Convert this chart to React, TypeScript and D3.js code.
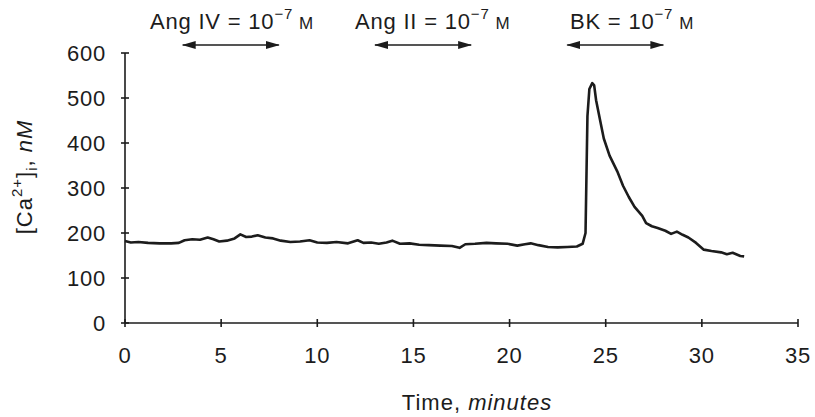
import React from 'react';
import * as d3 from 'd3';

// trace: time (min) vs [Ca2+]i (nM)
const timeMin = [
  0, 0.3, 0.7, 1.2, 1.8, 2.4, 2.8, 3.1, 3.5, 3.9, 4.3, 4.6, 4.9, 5.3, 5.7, 6.0, 6.3, 6.6, 6.9, 7.3,
  7.7, 8.1, 8.6, 9.1, 9.6, 10.0, 10.5, 11.0, 11.6, 12.1, 12.4, 12.8, 13.2, 13.6, 13.9, 14.3, 14.8,
  15.3, 15.8, 16.4, 17.0, 17.4, 17.7, 18.2, 18.8, 19.3, 19.9, 20.4, 20.8, 21.1, 21.5, 22.0, 22.5,
  23.0, 23.5, 23.8, 23.95, 24.05, 24.15, 24.3, 24.4, 24.5, 24.7, 24.9, 25.2, 25.6, 25.9, 26.2, 26.5,
  26.9, 27.1, 27.4, 27.7, 28.1, 28.4, 28.7, 29.0, 29.3, 29.7, 30.1, 30.5, 31.0, 31.3, 31.6, 32.0, 32.2,
];
const caNM = [
  182, 179, 180, 178, 177, 177, 178, 184, 186, 185, 190, 186, 181, 183, 188, 197, 191, 192, 195, 190,
  188, 183, 180, 181, 184, 179, 178, 180, 177, 184, 178, 179, 176, 179, 183, 176, 177,
  174, 173, 172, 171, 167, 175, 176, 178, 177, 176, 172, 175, 177, 173, 169, 168,
  169, 170, 176, 200, 460, 520, 533, 528, 495, 452, 410, 372, 337, 305, 280, 258,
  238, 222, 215, 211, 205, 198, 203, 196, 190, 178, 163, 160, 157, 153, 156, 149, 148,
];

const xTicks = [0, 5, 10, 15, 20, 25, 30, 35];
const yTicks = [0, 100, 200, 300, 400, 500, 600];

// drug applications: label, start, end (min)
const drugNames = ['Ang IV', 'Ang II', 'BK'];
const drugStart = [3, 13, 23];
const drugEnd = [8, 18, 28];

const FONT = '"Liberation Sans", Arial, Helvetica, sans-serif';
const INK = '#1c1c1c';
const FS = 22;
const LS = 0.8;

export default function App() {
  const x = d3.scaleLinear().domain([0, 35]).range([125, 798]);
  const y = d3.scaleLinear().domain([0, 600]).range([323, 53]);

  const pts: [number, number][] = timeMin.map((t, i) => [t, caNM[i]]);
  const line = d3
    .line<[number, number]>()
    .x((d) => x(d[0]))
    .y((d) => y(d[1]))
    .curve(d3.curveLinear);

  const labelX = [150, 355, 570];

  return (
    <svg
      width={815}
      height={417}
      style={{ position: 'absolute', left: 0, top: 0, background: '#fff' }}
      fontFamily={FONT}
      letterSpacing={LS}
    >
      <defs>
        <marker
          id="head"
          viewBox="0 0 14 8"
          refX={13}
          refY={4}
          markerWidth={14}
          markerHeight={8}
          markerUnits="userSpaceOnUse"
          orient="auto-start-reverse"
        >
          <path d="M0,0 L14,4 L0,8 Z" fill={INK} />
        </marker>
      </defs>

      {/* annotations */}
      {drugNames.map((name, i) => (
        <g key={name}>
          <text x={labelX[i]} y={29} fontSize={FS} fill={INK}>
            {name} = 10
            <tspan fontSize={15} dy={-10}>
              −7
            </tspan>
            <tspan fontSize={17} dy={10} dx={6}>
              M
            </tspan>
          </text>
          <line
            x1={x(drugStart[i])}
            x2={x(drugEnd[i])}
            y1={45}
            y2={45}
            stroke={INK}
            strokeWidth={1.6}
            markerStart="url(#head)"
            markerEnd="url(#head)"
          />
        </g>
      ))}

      {/* y axis */}
      <line x1={x(0)} x2={x(0)} y1={y(600)} y2={y(0)} stroke={INK} strokeWidth={1.6} />
      {yTicks.map((t) => (
        <g key={t}>
          <line x1={x(0) - 4} x2={x(0) + 4} y1={y(t)} y2={y(t)} stroke={INK} strokeWidth={1.6} />
          <text x={106} y={y(t)} dy="0.36em" textAnchor="end" fontSize={FS} fill={INK}>
            {t}
          </text>
        </g>
      ))}

      {/* x axis */}
      <line x1={x(0)} x2={x(35)} y1={y(0)} y2={y(0)} stroke={INK} strokeWidth={1.6} />
      {xTicks.map((t) => (
        <g key={t}>
          <line x1={x(t)} x2={x(t)} y1={y(0) - 4} y2={y(0) + 4} stroke={INK} strokeWidth={1.6} />
          <text x={x(t)} y={363} textAnchor="middle" fontSize={FS} fill={INK}>
            {t}
          </text>
        </g>
      ))}

      {/* axis titles */}
      <text x={477} y={410} textAnchor="middle" fontSize={FS} letterSpacing={1} fill={INK}>
        Time, <tspan fontStyle="italic">minutes</tspan>
      </text>
      <text
        transform="translate(32,177) rotate(-90)"
        textAnchor="middle"
        fontSize={FS}
        letterSpacing={1}
        fill={INK}
      >
        [Ca
        <tspan fontSize={15} dy={-10}>
          2+
        </tspan>
        <tspan dy={10}>]</tspan>
        <tspan fontSize={15} dy={5}>
          i
        </tspan>
        <tspan dy={-5}>, </tspan>
        <tspan fontStyle="italic">nM</tspan>
      </text>

      {/* trace */}
      <path d={line(pts) ?? ''} fill="none" stroke={INK} strokeWidth={2.6} strokeLinejoin="round" />
    </svg>
  );
}
